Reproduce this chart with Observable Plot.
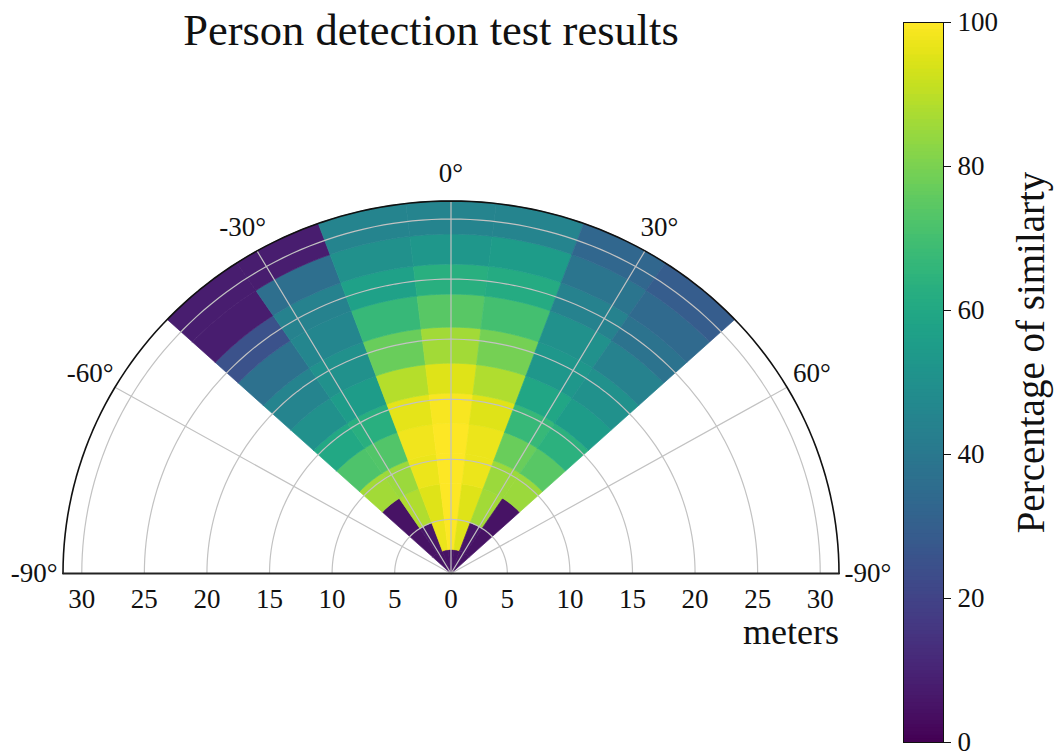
<!DOCTYPE html>
<html>
<head>
<meta charset="utf-8">
<script src="https://cdn.jsdelivr.net/npm/d3@7"></script>
<script src="https://cdn.jsdelivr.net/npm/@observablehq/plot@0.6"></script>
<style>
  html, body { margin: 0; padding: 0; background: white; }
  #wrap { position: relative; width: 1055px; height: 756px; overflow: hidden; font-family: "Liberation Serif", serif; }
  #title { position: absolute; left: 431px; top: 5px; transform: translateX(-50%); white-space: nowrap;
           font-size: 44.5px; line-height: 50px; color: #111; }
  #main { position: absolute; left: 0; top: 0; }
  #cbar { position: absolute; left: 895px; top: 0; }
</style>
</head>
<body>
<div id="wrap">
  <div id="main"></div>
  <div id="cbar"></div>
  <div id="title">Person detection test results</div>
</div>
<script>
// ---------------- data ----------------
const titleText = "Person detection test results";
const colorLabel = "Percentage of similarty";
const distanceLabel = "meters";
// angular bin edges (degrees, 0 = straight ahead)
const angleEdges = [-47, -33.5, -20, -6.7, 6.7, 20, 33.5, 47];
// radial bin edges (meters); the polar axis starts at 0.5 m
const rangeEdges = [0.5, 2.5, 5, 8, 10.5, 13, 15.5, 18, 21, 23.75, 26.25, 28.75, 31.5];
// percentage of similarity: one row per radial bin (inner -> outer), one column per angular bin (left -> right)
const similarity = [
  [ 5,  5,  5,   5,  5,  5,  5],
  [ 5,  6, 97, 100, 95,  6,  5],
  [ 5, 88, 95, 100, 95, 86,  5],
  [86, 85, 97, 100, 97, 85, 85],
  [72, 73, 98, 100, 97, 77, 74],
  [60, 63, 96,  99, 95, 67, 64],
  [50, 55, 89,  95, 88, 59, 55],
  [45, 50, 77,  86, 79, 53, 50],
  [37, 46, 67,  74, 70, 50, 44],
  [25, 44, 57,  63, 61, 44, 38],
  [ 8, 36, 50,  53, 55, 39, 34],
  [ 8,  8, 45,  45, 45, 33, 29]
];
const radialTicks = [0, 5, 10, 15, 20, 25, 30];
const angleTicks = [-90, -60, -30, 0, 30, 60, 90];
const angleTickLabels = ["-90°", "-60°", "-30°", "0°", "30°", "60°", "-90°"];
const angleGrid = [-60, -30, 0, 30, 60];
const colorTicks = [0, 20, 40, 60, 80, 100];

// ---------------- geometry helpers ----------------
const rOrigin = rangeEdges[0];
const rMax = rangeEdges[rangeEdges.length - 1] - rOrigin;
const rad = a => a * Math.PI / 180;
const px = (rho, a) => rho * Math.sin(rad(a));
const py = (rho, a) => rho * Math.cos(rad(a));

// cell polygons (annular sectors)
const cells = [];
similarity.forEach((row, i) => row.forEach((v, j) => {
  const r0 = rangeEdges[i] - rOrigin, r1 = rangeEdges[i + 1] - rOrigin;
  const a0 = angleEdges[j], a1 = angleEdges[j + 1];
  const n = 14, pts = [];
  for (let k = 0; k <= n; k++) pts.push([r0, a0 + (a1 - a0) * k / n]);
  for (let k = n; k >= 0; k--) pts.push([r1, a0 + (a1 - a0) * k / n]);
  pts.push(pts[0]);
  const id = `${i}-${j}`;
  for (const [r, a] of pts) cells.push({id, value: v, x: px(r, a), y: py(r, a)});
}));

// circular grid lines
const arcPts = (rho, id) => d3.range(-90, 90.01, 1.5).map(a => ({id, x: px(rho, a), y: py(rho, a)}));
const gridCircles = radialTicks.filter(t => t > 0).flatMap(t => arcPts(t - rOrigin, "c" + t));
const gridRays = angleGrid.flatMap(a => [{id: "a" + a, x: 0, y: 0}, {id: "a" + a, x: px(rMax, a), y: py(rMax, a)}]);
const outerArc = arcPts(rMax, "outer");
const diameter = [{x: -rMax, y: 0}, {x: rMax, y: 0}];

// tick labels
const labelRho = rMax + 2.3;
const angleLabelData = angleTicks.map((a, i) => ({x: px(labelRho, a), y: py(labelRho, a), text: angleTickLabels[i]}));
const radialLabelData = radialTicks.flatMap(t => t === 0
  ? [{x: 0, text: String(t)}]
  : [{x: -(t - rOrigin), text: String(t)}, {x: t - rOrigin, text: String(t)}]);

const colorScale = {type: "linear", scheme: "viridis", domain: [0, 100]};
const font = "'Liberation Serif', 'DejaVu Serif', serif";

// ---------------- main polar chart ----------------
const main = Plot.plot({
  width: 900,
  height: 756,
  x: {domain: [-rMax, rMax], range: [62.5, 838.5], axis: null},
  y: {domain: [0, rMax], range: [573, 200.5], axis: null},
  color: colorScale,
  style: {fontFamily: font, fontSize: "27px", background: "transparent", color: "#111", overflow: "visible"},
  marks: [
    Plot.line(cells, {x: "x", y: "y", z: "id", fill: "value", stroke: "value", strokeWidth: 0.7, curve: "linear"}),
    Plot.line(gridCircles, {x: "x", y: "y", z: "id", stroke: "#c2c2c2", strokeWidth: 1.2}),
    Plot.line(gridRays, {x: "x", y: "y", z: "id", stroke: "#c2c2c2", strokeWidth: 1.2}),
    Plot.line(outerArc, {x: "x", y: "y", stroke: "#111", strokeWidth: 1.6}),
    Plot.line(diameter, {x: "x", y: "y", stroke: "#222", strokeWidth: 1.8}),
    Plot.text(angleLabelData, {x: "x", y: "y", text: "text", fontSize: 27}),
    Plot.text(radialLabelData, {x: "x", y: () => 0, text: "text", dy: 26, fontSize: 27}),
    Plot.text([distanceLabel], {x: () => rMax, y: () => 0, text: d => d, textAnchor: "end", dy: 59, fontSize: 36})
  ]
});
document.getElementById("main").append(main);

// ---------------- colour bar ----------------
const ramp = d3.range(0, 100, 0.5);
const cbar = Plot.plot({
  width: 160,
  height: 756,
  marginLeft: 8,
  marginRight: 112,
  marginTop: 22,
  marginBottom: 14,
  x: {domain: [0, 1], axis: null},
  y: {domain: [0, 100], axis: null},
  color: colorScale,
  style: {fontFamily: font, fontSize: "27px", background: "transparent", color: "#111", overflow: "visible"},
  marks: [
    Plot.rect(ramp, {x1: 0, x2: 1, y1: d => d, y2: d => Math.min(100, d + 0.7), fill: d => d + 0.25}),
    Plot.frame({stroke: "#111", strokeWidth: 1}),
    Plot.axisY(colorTicks, {anchor: "right", tickSize: 7, tickPadding: 7, fontSize: 27, label: null, tickFormat: d => String(d)}),
    Plot.text([colorLabel], {frameAnchor: "right", text: d => d, rotate: -90, textAnchor: "middle", dx: 88, dy: -30, fontSize: 39})
  ]
});
document.getElementById("cbar").append(cbar);
</script>
</body>
</html>
